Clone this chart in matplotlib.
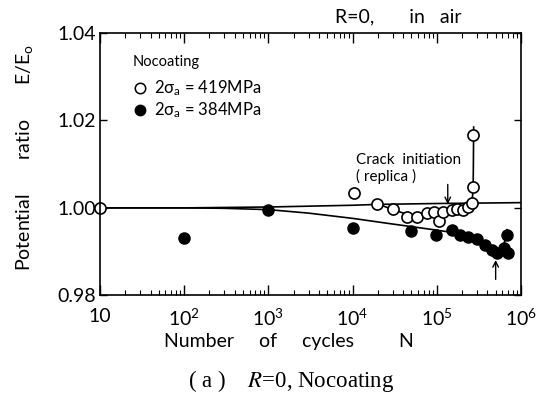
import numpy as np
import matplotlib
matplotlib.use("Agg")
import matplotlib.pyplot as plt

# 2σa = 419 MPa (open circles)
n_419 = [10, 1.04e4, 1.96e4, 3.0e4, 4.4e4, 5.9e4, 7.6e4, 9.3e4, 1.07e5, 1.19e5,
         1.5e5, 1.72e5, 2.03e5, 2.37e5, 2.6e5, 2.72e5, 2.72e5]
r_419 = [1.0000, 1.0035, 1.0010, 0.9998, 0.9978, 0.9978, 0.9989, 0.9990, 0.9970, 0.9990,
         0.9995, 0.9997, 0.9995, 1.0001, 1.0012, 1.0048, 1.0167]

# 2σa = 384 MPa (filled circles)
n_384 = [100, 1000, 1e4, 4.9e4, 9.8e4, 1.5e5, 1.9e5, 2.37e5, 2.98e5, 3.74e5,
         4.5e5, 5.15e5, 6.3e5, 7.1e5, 6.8e5]
r_384 = [0.9931, 0.9995, 0.9955, 0.9947, 0.9937, 0.9949, 0.9937, 0.9933, 0.9928, 0.9915,
         0.9904, 0.9896, 0.9908, 0.9896, 0.9939]

# hand drawn curves
n_ref = [10, 1e2, 1e3, 1e4, 2e4, 1e5, 1e6]
r_ref = [1.0000, 1.0000, 1.0002, 1.0006, 1.0008, 1.0010, 1.0012]

n_fit419 = [2e4, 3e4, 4.5e4, 6e4, 8e4, 1.1e5, 1.5e5, 2e5, 2.4e5, 2.6e5, 2.7e5, 2.72e5, 2.74e5]
r_fit419 = [1.0009, 0.9996, 0.9985, 0.9983, 0.9985, 0.9988, 0.9993, 0.9996, 1.0000, 1.0010, 1.0040, 1.0100, 1.0185]

n_fit384 = [10, 100, 300, 1000, 3000, 1e4, 3e4, 1e5, 1.5e5, 2e5, 3e5, 4e5, 4.8e5, 5.5e5, 6.2e5, 6.8e5, 6.8e5]
r_fit384 = [1.0000, 1.0000, 0.9999, 0.9996, 0.9988, 0.9976, 0.9963, 0.9949, 0.9944, 0.9938, 0.9928, 0.9912, 0.9898, 0.9900, 0.9915, 0.9939, 0.9950]

xticks = [10, 1e2, 1e3, 1e4, 1e5, 1e6]
xticklabels = ['10', r'$10^2$', r'$10^3$', r'$10^4$', r'$10^5$', r'$10^6$']
yticks = [0.98, 1.00, 1.02, 1.04]
yticklabels = ['0.98', '1.00', '1.02', '1.04']

plt.rcParams['font.family'] = ['Lato', 'DejaVu Sans']
plt.rcParams['text.color'] = 'black'
plt.rcParams['xtick.labelcolor'] = 'black'
plt.rcParams['ytick.labelcolor'] = 'black'
plt.rcParams['mathtext.fontset'] = 'custom'
plt.rcParams['mathtext.rm'] = 'Lato'
plt.rcParams['mathtext.it'] = 'Lato'

fig = plt.figure(figsize=(5.49, 3.99), dpi=100)
ax = fig.add_axes([0.182, 0.26, 0.767, 0.657])

ax.plot(n_ref, r_ref, color='black', lw=1.2)
ax.plot(n_fit419, r_fit419, color='black', lw=1.2)
ax.plot(n_fit384, r_fit384, color='black', lw=1.2)

ax.plot(n_384, r_384, 'o', ms=8, mfc='black', mec='black', mew=1.0, clip_on=False)
ax.plot(n_419, r_419, 'o', ms=8, mfc='white', mec='black', mew=1.2, clip_on=False)

ax.set_xscale('log')
ax.set_xlim(10, 1e6)
ax.set_ylim(0.98, 1.04)
ax.set_xticks(xticks)
ax.set_xticklabels(xticklabels, fontsize=14)
ax.set_yticks(yticks)
ax.set_yticklabels(yticklabels, fontsize=14)
ax.tick_params(axis='x', which='major', direction='in', top=True, length=7, width=1, pad=9)
ax.tick_params(axis='x', which='minor', direction='in', top=True, length=3.5, width=0.8)
ax.tick_params(axis='y', which='major', direction='in', right=True, length=5, width=1, pad=3)
for s in ax.spines.values():
    s.set_linewidth(1.2)

# legend drawn as text
ax.text(0.078, 0.889, 'Nocoating', transform=ax.transAxes, fontsize=10.5, va='center')
ax.plot([0.095], [0.79], 'o', transform=ax.transAxes, ms=7.5, mfc='white', mec='black', mew=1.1)
ax.text(0.128, 0.79, r'2$\sigma_a$ = 419MPa', transform=ax.transAxes, fontsize=12, va='center')
ax.plot([0.095], [0.706], 'o', transform=ax.transAxes, ms=7.5, mfc='black', mec='black')
ax.text(0.128, 0.706, r'2$\sigma_a$ = 384MPa', transform=ax.transAxes, fontsize=12, va='center')

# crack initiation arrows
ax.text(0.607, 0.515, 'Crack  initiation', transform=ax.transAxes, fontsize=11, va='center')
ax.text(0.607, 0.452, '( replica )', transform=ax.transAxes, fontsize=11, va='center')
ax.annotate('', xy=(1.35e5, 1.0002), xytext=(1.35e5, 1.0060),
            arrowprops=dict(arrowstyle='->', color='black', lw=1.0))
ax.annotate('', xy=(5e5, 0.9887), xytext=(5e5, 0.9830),
            arrowprops=dict(arrowstyle='->', color='black', lw=1.0), annotation_clip=False)

fig.text(0.61, 0.945, 'R=0,       in   air', fontsize=14)
fig.text(0.045, 0.605, r'Potential       ratio       E/E$_{\rm o}$', rotation=90, fontsize=14,
         va='center', ha='center')
fig.text(0.527, 0.13, 'Number     of     cycles         N', fontsize=14, ha='center')
fig.text(0.53, 0.03, r'( a )    $R$=0, Nocoating', fontsize=16.5, ha='center',
         family='Liberation Serif', math_fontfamily='stix')

fig.savefig('out.png', dpi=100)
